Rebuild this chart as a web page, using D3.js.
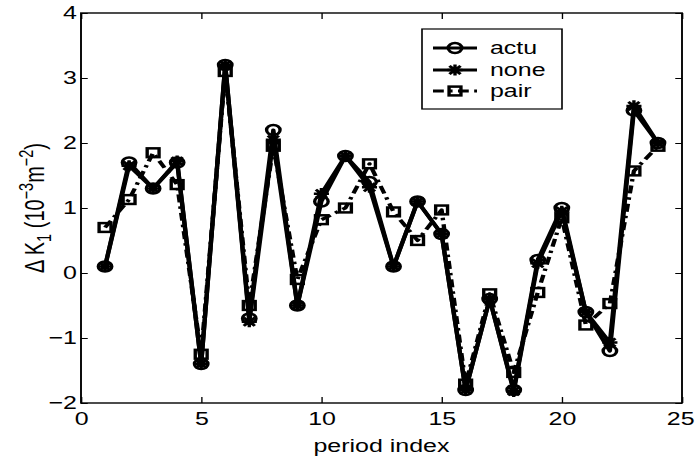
<!DOCTYPE html>
<html>
<head>
<meta charset="utf-8">
<script src="https://cdn.jsdelivr.net/npm/d3@7"></script>
<style>
  html, body { margin: 0; padding: 0; background: #fff; }
  svg { display: block; }
  text { font-family: "Liberation Sans", Arial, Helvetica, sans-serif; fill: #000; }
</style>
</head>
<body>
<svg id="chart" width="695" height="461"></svg>
<script>
// Period indices and the three ΔK1 series (units of 1e-3 m^-2)
const periods = [1,2,3,4,5,6,7,8,9,10,11,12,13,14,15,16,17,18,19,20,21,22,23,24];
const actu = [0.1,1.7,1.3,1.7,-1.4,3.2,-0.7,2.2,-0.5,1.1,1.8,1.4,0.1,1.1,0.6,-1.8,-0.4,-1.8,0.2,1.0,-0.6,-1.2,2.5,2.0];
const none = [0.1,1.65,1.3,1.72,-1.4,3.2,-0.75,2.05,-0.5,1.22,1.8,1.32,0.1,1.1,0.6,-1.8,-0.4,-1.82,0.15,0.95,-0.6,-1.07,2.57,2.0];
const pair = [0.7,1.13,1.85,1.36,-1.25,3.1,-0.5,1.95,-0.1,0.82,1.0,1.68,0.94,0.5,0.97,-1.71,-0.32,-1.53,-0.3,0.85,-0.8,-0.47,1.57,1.95];
const xTicks = [0,5,10,15,20,25];
const yTicks = [-2,-1,0,1,2,3,4];
const seriesNames = ["actu","none","pair"];

// the figure is drawn in a horizontally stretched frame
const SX = 1.35;
const svg = d3.select("#chart");
const g = svg.append("g").attr("transform", `scale(${SX},1)`);

const plotL = 81 / SX, plotR = 682 / SX, plotT = 13, plotB = 403;
const x = d3.scaleLinear().domain([0, 25]).range([plotL, plotR]);
const y = d3.scaleLinear().domain([-2, 4]).range([plotB, plotT]);

const FONT = 18.5;

// axes with inward ticks on all four sides
function styleAxis(sel) {
  sel.select(".domain").remove();
  sel.selectAll(".tick line").attr("stroke", "#000").attr("stroke-width", 1);
  sel.selectAll(".tick text").attr("font-size", FONT).attr("fill", "#000")
     .style("font-family", '"Liberation Sans", Arial, sans-serif');
}
const minusFmt = d => String(d).replace("-", "−");
g.append("g").attr("transform", `translate(0,${plotB})`)
  .call(d3.axisBottom(x).tickValues(xTicks).tickFormat(minusFmt)
        .tickSizeInner(-6).tickSizeOuter(0).tickPadding(9))
  .call(styleAxis);
g.append("g").attr("transform", `translate(0,${plotT})`)
  .call(d3.axisTop(x).tickValues(xTicks).tickFormat("")
        .tickSizeInner(-6).tickSizeOuter(0))
  .call(styleAxis);
g.append("g").attr("transform", `translate(${plotL},0)`)
  .call(d3.axisLeft(y).tickValues(yTicks).tickFormat(minusFmt)
        .tickSizeInner(-5).tickSizeOuter(0).tickPadding(3))
  .call(styleAxis);
g.append("g").attr("transform", `translate(${plotR},0)`)
  .call(d3.axisRight(y).tickValues(yTicks).tickFormat("")
        .tickSizeInner(-5).tickSizeOuter(0))
  .call(styleAxis);

// keep the last x label inside the page edge
g.selectAll(".tick text").filter(d => d === 25).attr("dx", -1.5);

// axes box
g.append("rect")
  .attr("x", plotL).attr("y", plotT)
  .attr("width", plotR - plotL).attr("height", plotB - plotT)
  .attr("fill", "none").attr("stroke", "#000").attr("stroke-width", 1.4);

// marker shapes
const R = 5.0;
const MW = 2.5;
function drawMarker(sel, kind) {
  if (kind === "circle") {
    sel.append("circle").attr("r", R).attr("fill", "none")
      .attr("stroke", "#000").attr("stroke-width", MW);
  } else if (kind === "star") {
    const s = 5.6, d = 4.1;
    sel.append("path")
      .attr("d", `M${-s},0L${s},0M0,${-s}L0,${s}M${-d},${-d}L${d},${d}M${-d},${d}L${d},${-d}`)
      .attr("stroke", "#000").attr("stroke-width", MW).attr("fill", "none");
  } else {
    const h = 4.4;
    sel.append("rect").attr("x", -h).attr("y", -h).attr("width", 2 * h).attr("height", 2 * h)
      .attr("fill", "none").attr("stroke", "#000").attr("stroke-width", MW);
  }
}

const series = [
  { name: seriesNames[0], values: actu, marker: "circle", dash: null },
  { name: seriesNames[1], values: none, marker: "star", dash: null },
  { name: seriesNames[2], values: pair, marker: "square", dash: "8,4,2.5,4" }
];

const line = d3.line().x(d => x(d[0])).y(d => y(d[1]));
const LW = 3.2;

series.forEach(s => {
  const pts = periods.map((p, i) => [p, s.values[i]]);
  g.append("path").datum(pts)
    .attr("d", line).attr("fill", "none")
    .attr("stroke", "#000").attr("stroke-width", LW)
    .attr("stroke-linejoin", "round")
    .attr("stroke-dasharray", s.dash);
  g.append("g").selectAll("g").data(pts).join("g")
    .attr("transform", d => `translate(${x(d[0])},${y(d[1])})`)
    .each(function () { drawMarker(d3.select(this), s.marker); });
});

// axis labels
g.append("text")
  .attr("x", (plotL + plotR) / 2).attr("y", 452)
  .attr("text-anchor", "middle").attr("font-size", FONT)
  .text("period index");

const yl = g.append("text")
  .attr("transform", `translate(${44 / SX},${208}) rotate(-90)`)
  .attr("text-anchor", "middle").attr("font-size", 20);
yl.append("tspan").text("Δ K");
yl.append("tspan").attr("font-size", 14.5).attr("dy", 5).text("1");
yl.append("tspan").attr("dy", -5).text(" (10");
yl.append("tspan").attr("font-size", 14.5).attr("dy", -8).text("−3");
yl.append("tspan").attr("dy", 8).text("m");
yl.append("tspan").attr("font-size", 14.5).attr("dy", -8).text("−2");
yl.append("tspan").attr("dy", 8).text(")");

// legend
const lg = g.append("g");
const lx0 = 422 / SX, lx1 = 562 / SX, ly0 = 29, ly1 = 109;
lg.append("rect").attr("x", lx0).attr("y", ly0)
  .attr("width", lx1 - lx0).attr("height", ly1 - ly0)
  .attr("fill", "#fff").attr("stroke", "#000").attr("stroke-width", 1.2);
const rowY = [48, 70, 91];
const sx0 = 433 / SX, sx1 = 477 / SX;
series.forEach((s, i) => {
  lg.append("line").attr("x1", sx0).attr("x2", sx1)
    .attr("y1", rowY[i]).attr("y2", rowY[i])
    .attr("stroke", "#000").attr("stroke-width", LW)
    .attr("stroke-dasharray", s.dash);
  const m = lg.append("g").attr("transform", `translate(${(sx0 + sx1) / 2},${rowY[i]})`);
  drawMarker(m, s.marker);
  lg.append("text").attr("x", 490 / SX).attr("y", rowY[i]).attr("dy", "0.35em")
    .attr("font-size", FONT).text(s.name);
});
</script>
</body>
</html>
